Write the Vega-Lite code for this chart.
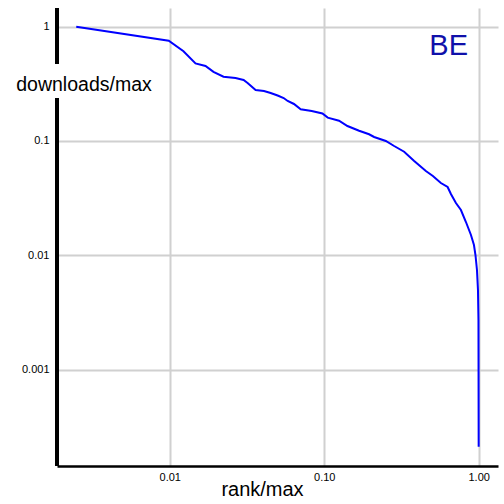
{
  "$schema": "https://vega.github.io/schema/vega-lite/v6.json",
  "width": 441,
  "height": 458,
  "autosize": "none",
  "padding": {"left": 57, "top": 8, "right": 6, "bottom": 38},
  "background": "white",
  "config": {
    "view": {"stroke": null},
    "font": "Liberation Sans",
    "axis": {
      "domainColor": "black",
      "domainWidth": 2.5,
      "gridColor": "#d0d0d0",
      "gridWidth": 2,
      "ticks": false,
      "labelFont": "Liberation Sans",
      "labelFontSize": 11,
      "labelColor": "black",
      "titleFont": "Liberation Sans",
      "titleFontWeight": "normal",
      "titleColor": "black"
    }
  },
  "title": {
    "text": "BE",
    "anchor": "end",
    "frame": "group",
    "orient": "top",
    "baseline": "alphabetic",
    "offset": -48.5,
    "dx": -30,
    "dy": 28.5,
    "fontSize": 29,
    "fontWeight": "normal",
    "font": "Liberation Sans",
    "color": "#1010AA"
  },
  "data": {
    "values": [
      {"rank": 0.00248, "downloads": 1.0},
      {"rank": 0.00985, "downloads": 0.754},
      {"rank": 0.01227, "downloads": 0.609},
      {"rank": 0.01468, "downloads": 0.477},
      {"rank": 0.01704, "downloads": 0.453},
      {"rank": 0.01919, "downloads": 0.402},
      {"rank": 0.02228, "downloads": 0.365},
      {"rank": 0.02666, "downloads": 0.356},
      {"rank": 0.03006, "downloads": 0.342},
      {"rank": 0.03191, "downloads": 0.3217},
      {"rank": 0.03597, "downloads": 0.2793},
      {"rank": 0.04074, "downloads": 0.2738},
      {"rank": 0.045, "downloads": 0.263},
      {"rank": 0.04993, "downloads": 0.25},
      {"rank": 0.05462, "downloads": 0.2377},
      {"rank": 0.05799, "downloads": 0.2239},
      {"rank": 0.06371, "downloads": 0.2108},
      {"rank": 0.07042, "downloads": 0.1893},
      {"rank": 0.083, "downloads": 0.183},
      {"rank": 0.09734, "downloads": 0.174},
      {"rank": 0.1054, "downloads": 0.16},
      {"rank": 0.1247, "downloads": 0.1506},
      {"rank": 0.1414, "downloads": 0.1353},
      {"rank": 0.1682, "downloads": 0.123},
      {"rank": 0.1952, "downloads": 0.1145},
      {"rank": 0.2104, "downloads": 0.1084},
      {"rank": 0.2505, "downloads": 0.1},
      {"rank": 0.2836, "downloads": 0.0904},
      {"rank": 0.3292, "downloads": 0.0806},
      {"rank": 0.3824, "downloads": 0.0668},
      {"rank": 0.4551, "downloads": 0.0546},
      {"rank": 0.5053, "downloads": 0.0494},
      {"rank": 0.5693, "downloads": 0.0429},
      {"rank": 0.6295, "downloads": 0.0396},
      {"rank": 0.6612, "downloads": 0.0344},
      {"rank": 0.7125, "downloads": 0.0287},
      {"rank": 0.7677, "downloads": 0.0249},
      {"rank": 0.8272, "downloads": 0.01956},
      {"rank": 0.8914, "downloads": 0.01505},
      {"rank": 0.9322, "downloads": 0.0123},
      {"rank": 0.9534, "downloads": 0.01006},
      {"rank": 0.975, "downloads": 0.00744},
      {"rank": 0.9897, "downloads": 0.00497},
      {"rank": 0.997, "downloads": 0.00272},
      {"rank": 1.0, "downloads": 0.000211}
    ]
  },
  "layer": [
    {
      "mark": {"type": "line", "color": "#0000FF", "strokeWidth": 2, "clip": true},
      "encoding": {
        "x": {
          "field": "rank",
          "type": "quantitative",
          "scale": {"type": "log", "domain": [0.001862, 1.334], "nice": false},
          "axis": {
            "values": [0.01, 0.1, 1],
            "format": ".2f",
            "labelPadding": 5,
            "title": "rank/max",
            "titleFontSize": 20,
            "titleBaseline": "alphabetic",
            "titleX": 205,
            "titleY": 29,
            "titleAnchor": null
          }
        },
        "y": {
          "field": "downloads",
          "type": "quantitative",
          "scale": {"type": "log", "domain": [0.0001435, 1.457], "nice": false},
          "axis": {
            "values": [0.001, 0.01, 0.1, 1],
            "format": "~g",
            "labelPadding": 8,
            "domain": false,
            "title": "downloads/max",
            "titleAngle": 0,
            "titleFontSize": 19.5,
            "titleAlign": "center",
            "titleBaseline": "alphabetic",
            "titleAnchor": null,
            "titleX": 26.5,
            "titleY": 82.7
          }
        }
      }
    },
    {
      "mark": {"type": "rule", "color": "black", "strokeWidth": 2.5},
      "encoding": {
        "x": {"datum": 0.001862, "type": "quantitative"},
        "y": {"datum": 1.457, "type": "quantitative"},
        "y2": {"datum": 0.4718}
      }
    },
    {
      "mark": {"type": "rule", "color": "black", "strokeWidth": 2.5},
      "encoding": {
        "x": {"datum": 0.001862, "type": "quantitative"},
        "y": {"datum": 0.2377, "type": "quantitative"},
        "y2": {"datum": 0.0001435}
      }
    }
  ]
}
